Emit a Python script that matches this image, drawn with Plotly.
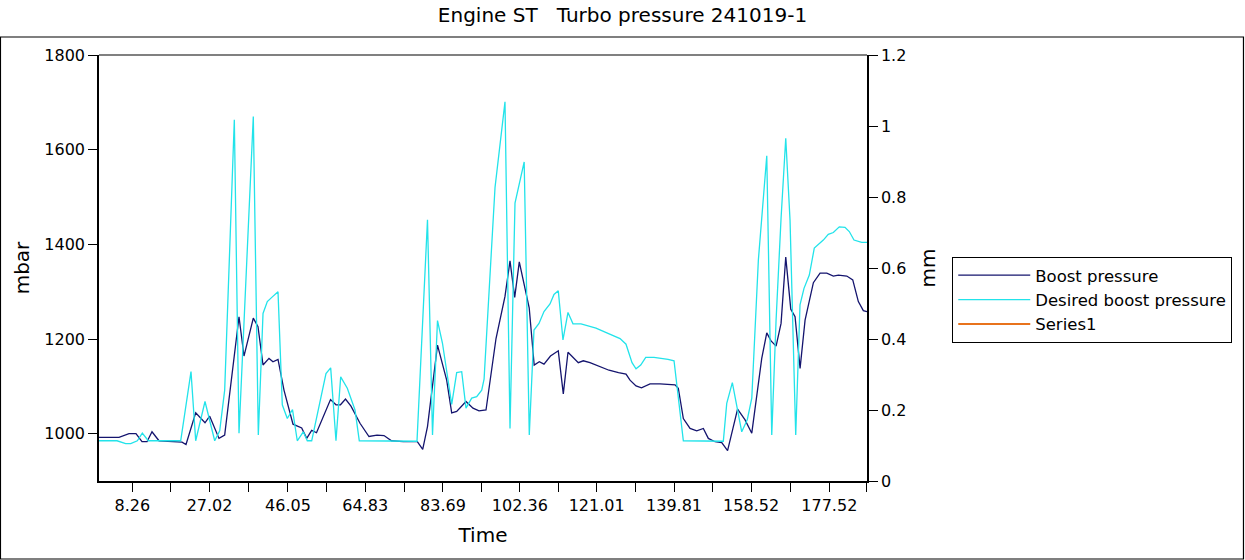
import plotly.graph_objects as go

# ---- data ----
time_boost = [0.17, 5.03, 7.46, 9.15, 10.61, 11.83, 13.04, 14.74, 20.33, 21.30,
              23.65, 25.91, 27.05, 29.31, 30.69, 34.17, 35.38, 37.64, 38.78, 40.00,
              41.45, 42.42, 43.64, 45.09, 47.28, 49.39, 50.61, 51.82, 52.99, 56.39,
              57.72, 58.81, 60.03, 61.36, 63.55, 65.73, 67.68, 69.38, 71.20, 74.07,
              77.47, 78.78, 79.94, 82.37, 84.60, 85.82, 87.03, 89.29, 90.99, 92.45,
              94.15, 96.58, 98.76, 99.98, 101.12, 102.23, 104.64, 105.85, 107.09, 108.23,
              109.81, 111.70, 112.92, 114.06, 116.56, 117.78, 119.40, 121.83, 124.02, 126.33,
              128.15, 129.12, 130.58, 131.91, 133.98, 136.41, 140.05, 140.85, 142.07, 143.70,
              145.32, 146.93, 148.14, 149.77, 151.40, 152.81, 154.22, 155.24, 157.06, 158.69,
              161.11, 162.33, 163.37, 164.59, 165.80, 166.94, 168.16, 169.20, 170.42, 171.63,
              173.65, 175.27, 176.90, 178.50, 179.72, 181.76, 183.21, 184.57, 185.78, 186.67]
boost = [992, 992, 1000, 1000, 983, 983, 1004, 985, 982, 977,
         1044, 1023, 1037, 990, 997, 1247, 1164, 1244, 1226, 1145,
         1159, 1152, 1157, 1092, 1020, 1012, 990, 1007, 1002, 1072,
         1061, 1061, 1073, 1058, 1022, 994, 997, 996, 985, 983,
         983, 967, 1015, 1187, 1113, 1044, 1047, 1068, 1054, 1048,
         1050, 1201, 1290, 1365, 1288, 1363, 1266, 1145, 1152, 1147,
         1164, 1175, 1084, 1172, 1150, 1154, 1150, 1141, 1134, 1129,
         1126, 1113, 1101, 1097, 1105, 1105, 1103, 1096, 1032, 1011,
         1006, 1011, 990, 983, 981, 964, 1015, 1052, 1029, 1001,
         1159, 1213, 1196, 1185, 1233, 1373, 1263, 1247, 1138, 1240,
         1319, 1339, 1339, 1333, 1335, 1333, 1325, 1279, 1260, 1258]

time_desired = [0.17, 4.54, 6.65, 7.87, 9.47, 10.69, 12.14, 20.01, 22.51, 23.65,
                25.91, 28.27, 29.48, 30.69, 33.03, 34.17, 37.64, 38.86, 40.00, 41.04,
                42.26, 43.64, 44.68, 45.90, 47.16, 48.32, 49.78, 50.75, 51.82, 55.29,
                56.43, 57.72, 58.86, 60.47, 62.34, 63.38, 77.39, 79.94, 81.16, 82.37,
                83.58, 85.82, 87.03, 88.25, 89.29, 90.68, 91.89, 93.11, 93.68, 96.34,
                98.76, 99.98, 101.19, 103.42, 104.66, 105.80, 107.02, 108.23, 109.69, 110.66,
                111.70, 112.84, 114.06, 115.27, 117.22, 120.86, 123.77, 126.70, 128.15, 129.61,
                130.58, 131.72, 132.94, 134.95, 138.35, 139.81, 142.07, 151.78, 152.61, 153.97,
                156.25, 157.61, 158.69, 160.29, 162.33, 163.54, 164.59, 165.80, 166.94, 167.98,
                169.36, 170.40, 171.37, 172.66, 173.87, 175.09, 176.06, 177.27, 178.49, 179.94,
                181.33, 182.37, 183.51, 185.38, 186.67]
desired = [985, 985, 979, 979, 985, 1001, 985, 985, 1131, 985,
           1068, 985, 1006, 1092, 1663, 1001, 1670, 997, 1254, 1279,
           1289, 1300, 1061, 1032, 1051, 985, 1004, 985, 985, 1127,
           1139, 985, 1120, 1096, 1050, 985, 984, 1452, 997, 1239,
           1191, 1062, 1129, 1131, 1054, 1075, 1078, 1092, 1115, 1520,
           1701, 1011, 1487, 1574, 997, 1219, 1233, 1258, 1274, 1294,
           1302, 1198, 1256, 1232, 1232, 1223, 1212, 1201, 1189, 1150,
           1137, 1145, 1161, 1161, 1157, 1154, 985, 984, 1064, 1108,
           1004, 1030, 1075, 1367, 1587, 997, 1240, 1455, 1624, 1451,
           997, 1272, 1307, 1335, 1392, 1401, 1409, 1421, 1425, 1437,
           1436, 1427, 1409, 1404, 1404]

# Series1 has no visible values in the reference (legend entry only)
time_series1 = [None]
series1 = [None]

tick_labels = ["8.26", "27.02", "46.05", "64.83", "83.69",
               "102.36", "121.01", "139.81", "158.52", "177.52"]
minor_ticks = [17.64, 36.54, 55.44, 74.26, 93.03, 111.69, 130.41, 149.17, 168.02, 186.6]

x_range = [0.17, 186.67]
left_range = [900, 1800]
right_range = [0, 1.2]

# ---- figure ----
FONT = "DejaVu Sans"
fig = go.Figure()
fig.add_trace(go.Scatter(x=time_boost, y=boost, name="Boost pressure", mode="lines",
                         line=dict(color="#14146e", width=1.3)))
fig.add_trace(go.Scatter(x=time_desired, y=desired, name="Desired boost pressure", mode="lines",
                         line=dict(color="#22e3ea", width=1.3)))
fig.add_trace(go.Scatter(x=time_series1, y=series1, name="Series1", mode="lines",
                         yaxis="y2", showlegend=True, line=dict(color="#e8731c", width=2)))

tickvals = [float(v) for v in tick_labels] + minor_ticks
ticktext = tick_labels + [""] * len(minor_ticks)

axis_common = dict(showline=True, linecolor="black", linewidth=1.5, ticks="outside",
                   ticklen=9, tickwidth=1.3, tickcolor="black", showgrid=False,
                   zeroline=False, automargin=False,
                   tickfont=dict(family=FONT, size=16, color="black"))

fig.update_layout(
    width=1245, height=560, autosize=False,
    paper_bgcolor="white", plot_bgcolor="white",
    margin=dict(l=99, r=378, t=55, b=79),
    title=dict(text="Engine ST\u00a0\u00a0\u00a0Turbo pressure 241019-1",
               x=0.5, xref="container", xanchor="center", y=0.973, yref="container",
               yanchor="middle", font=dict(family=FONT, size=20, color="black")),
    xaxis=dict(range=x_range, tickmode="array", tickvals=tickvals, ticktext=ticktext,
               title=dict(text="Time", font=dict(family=FONT, size=20, color="black"), standoff=14),
               **axis_common),
    yaxis=dict(range=left_range, tickmode="linear", tick0=1000, dtick=200,
               title=dict(text="mbar", font=dict(family=FONT, size=20, color="black"), standoff=9),
               **axis_common),
    yaxis2=dict(range=right_range, overlaying="y", side="right", tickmode="linear",
                tick0=0, dtick=0.2,
                title=dict(text="mm", font=dict(family=FONT, size=20, color="black"), standoff=16),
                **axis_common),
    legend=dict(x=1.111, y=0.526, xanchor="left", yanchor="top",
                bordercolor="black", borderwidth=1, bgcolor="white",
                font=dict(family=FONT, size=16.5, color="black"), itemwidth=72,
                tracegroupgap=0),
    showlegend=True,
    shapes=[
        dict(type="line", xref="paper", yref="paper", x0=0, x1=1, y0=1, y1=1,
             line=dict(color="#808080", width=2)),
        dict(type="rect", xref="paper", yref="paper", x0=-0.1283, x1=1.4902,
             y0=-0.1831, y1=1.0423, line=dict(color="black", width=1.2), layer="below"),
    ],
)

fig.write_html("out.html", config={"displayModeBar": False},
               post_script="document.body.style.margin='0px';")
